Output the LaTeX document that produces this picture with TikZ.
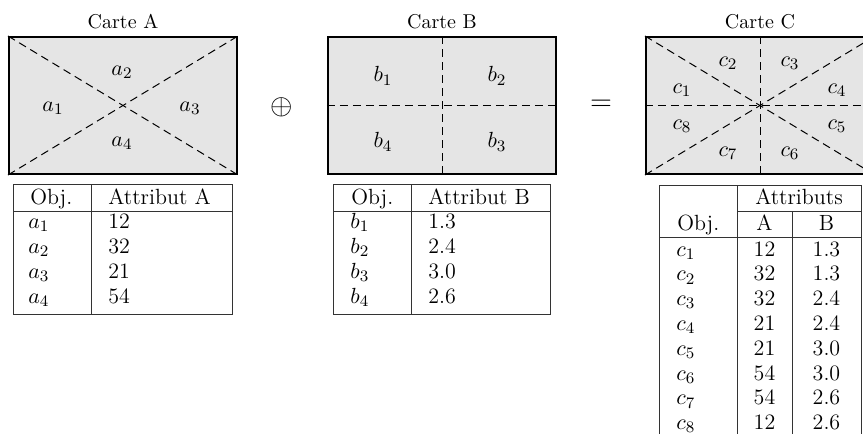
\documentclass[tikz,border=0pt]{standalone}
\begin{document}
\begin{tikzpicture}[x=0.5pt,y=-0.5pt,
  mapbox/.style={draw, very thick, fill=black!10, minimum width=4cm, minimum height=2.4cm, inner sep=0pt},
  cut/.style={dash pattern=on 4pt off 2.5pt, line width=0.5pt},
  tbl/.style={line width=0.4pt, draw=black!80},
  bigtxt/.style={font=\fontsize{11}{13.6}\selectfont},
  lbl/.style={inner sep=0pt, bigtxt},
  opsym/.style={inner sep=0pt, font=\fontsize{13.5}{16}\selectfont},
  cellw/.style={anchor=base west, inner sep=0pt, bigtxt},
  cellc/.style={anchor=base, inner sep=0pt, bigtxt},
  title/.style={anchor=base, inner sep=0pt}]
\path[use as bounding box] (0,0) rectangle (863,434);
\clip (0,0) rectangle (863,434);

% titles
\node[title] (tA) at (123,28) {Carte A};
\node[title] (tB) at (442,28) {Carte B};
\node[title] (tC) at (760,28) {Carte C};

% maps
\node[mapbox] (mA) at (123,105.5) {};
\node[mapbox] (mB) at (442,105.5) {};
\node[mapbox] (mC) at (760,105.5) {};

\draw[cut] (mA.north west) -- (mA.south east);
\draw[cut] (mA.south west) -- (mA.north east);

\draw[cut] (mB.north) -- (mB.south);
\draw[cut] (mB.west) -- (mB.east);

\draw[cut] (mC.north west) -- (mC.south east);
\draw[cut] (mC.south west) -- (mC.north east);
\draw[cut] (mC.north) -- (mC.south);
\draw[cut] (mC.west) -- (mC.east);

% map labels
\node[lbl] (la2) at (122,72) {$a_2$};
\node[lbl] (la1) at (53,108) {$a_1$};
\node[lbl] (la3) at (190,108) {$a_3$};
\node[lbl] (la4) at (122,143) {$a_4$};

\node[lbl] (lb1) at (383,76) {$b_1$};
\node[lbl] (lb2) at (497,76) {$b_2$};
\node[lbl] (lb4) at (383,142) {$b_4$};
\node[lbl] (lb3) at (497,142) {$b_3$};

\node[lbl] (lc2) at (728,63) {$c_2$};
\node[lbl] (lc3) at (790,63) {$c_3$};
\node[lbl] (lc1) at (682,90) {$c_1$};
\node[lbl] (lc4) at (837,90) {$c_4$};
\node[lbl] (lc8) at (682,126) {$c_8$};
\node[lbl] (lc5) at (837,126) {$c_5$};
\node[lbl] (lc7) at (728,153) {$c_7$};
\node[lbl] (lc6) at (790,153) {$c_6$};

% operators
\node[opsym] (op1) at (282,107) {$\oplus$};
\node[opsym] (op2) at (601,105) {$=$};

% table A
\draw[tbl] (13,184) rectangle (232,314);
\draw[tbl] (91,184) -- (91,314);
\draw[tbl] (13,211) -- (232,211);
\node[cellw] (hA1) at (30,204) {Obj.};
\node[cellw] (hA2) at (108,204) {Attribut A};
\foreach \i/\v [count=\k from 0] in {1/12,2/32,3/21,4/54}{
  \node[cellw] (oa\i) at (28,228.5+25*\k) {$a_\i$};
  \node[cellw] (va\i) at (108,228.5+25*\k) {\v};
}

% table B
\draw[tbl] (333,184) rectangle (550,314);
\draw[tbl] (411,184) -- (411,314);
\draw[tbl] (333,211) -- (550,211);
\node[cellw] (hB1) at (351,204) {Obj.};
\node[cellw] (hB2) at (428,204) {Attribut B};
\foreach \i/\v [count=\k from 0] in {1/1.3,2/2.4,3/3.0,4/2.6}{
  \node[cellw] (ob\i) at (350,228.5+25*\k) {$b_\i$};
  \node[cellw] (vb\i) at (428,228.5+25*\k) {\v};
}

% table C
\draw[tbl] (659,185) rectangle (861,470);
\draw[tbl] (737,185) -- (737,470);
\draw[tbl] (792,211) -- (792,470);
\draw[tbl] (737,211) -- (861,211);
\draw[tbl] (659,237) -- (861,237);
\node[cellc] (hC0) at (799,204) {Attributs};
\node[cellw] (hC1) at (677,230) {Obj.};
\node[cellc] (hCA) at (764.5,230) {A};
\node[cellc] (hCB) at (826.5,230) {B};
\foreach \i/\a/\b [count=\k from 0] in {1/12/1.3,2/32/1.3,3/32/2.4,4/21/2.4,5/21/3.0,6/54/3.0,7/54/2.6,8/12/2.6}{
  \node[cellw] (oc\i) at (676,256+24.8*\k) {$c_\i$};
  \node[cellc] (ca\i) at (764.5,256+24.8*\k) {\a};
  \node[cellc] (cb\i) at (826.5,256+24.8*\k) {\b};
}
\end{tikzpicture}
\end{document}
